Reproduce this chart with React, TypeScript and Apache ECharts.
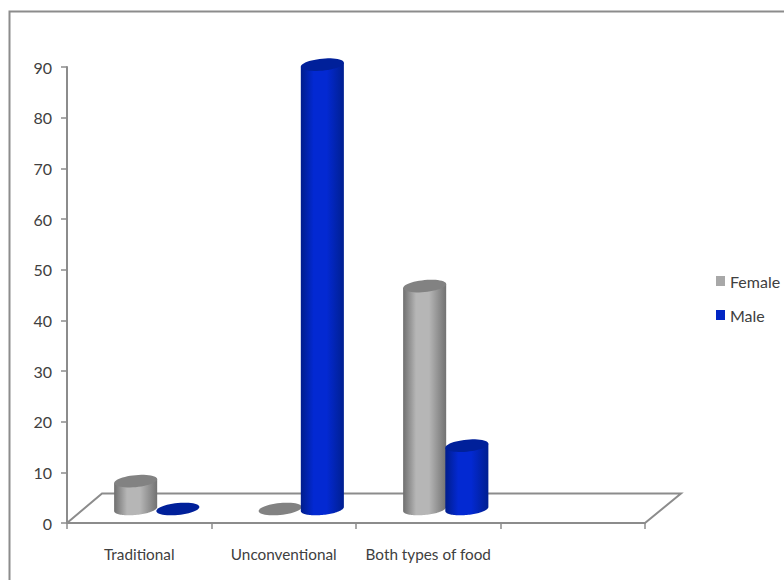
import React, { useEffect, useRef } from "react";
import * as echarts from "echarts";

const categories = ["Traditional", "Unconventional", "Both types of food", ""];
const femaleValues = [5.5, 0, 44, null];
const maleValues = [0, 87.7, 12.5, null];
const yTicks = { min: 0, max: 90, interval: 10 };

const FONT = 'Lato, "Noto Sans", sans-serif';
const TEXT = "#404040";
const LINE = "#8c8c8c";

type Tone = { side: [string, string, string]; cap: string };
const greyTone: Tone = { side: ["#6f6f6f", "#b6b6b6", "#727272"], cap: "#828282" };
const blueTone: Tone = { side: ["#001d8c", "#0329d2", "#001f90"], cap: "#00209a" };

// The cylinders stand halfway back on the floor, so their bases shift up and right.
const DEPTH_X = 17.5;
const DEPTH_Y = -14;
const CAP_RY = 6;
const CAP_TILT = 2;

function ellipsePoints(cx: number, cy: number, rx: number, from: number, to: number) {
  const pts: number[][] = [];
  const steps = 48;
  for (let i = 0; i <= steps; i++) {
    const t = from + ((to - from) * i) / steps;
    pts.push([cx + rx * Math.cos(t), cy + CAP_RY * Math.sin(t) - CAP_TILT * Math.cos(t)]);
  }
  return pts;
}

// Draws one cylinder; `side` is -1 for the left bar of a category and 1 for the right one.
function cylinder(side: number, tone: Tone) {
  return (_params: any, api: any) => {
    const value = api.value(1);
    const cat = api.value(0);
    if (value === null || Number.isNaN(value)) return null;
    const band = api.size([1, 0])[0];
    const rx = band * 0.149;
    const base = api.coord([cat, 0]);
    const top = api.coord([cat, value]);
    const cx = base[0] + DEPTH_X + side * rx * 0.98;
    const by = base[1] + DEPTH_Y;
    const ty = top[1] + DEPTH_Y;
    const cap = {
      type: "polygon",
      shape: { points: ellipsePoints(cx, ty, rx, 0, Math.PI * 2) },
      style: { fill: tone.cap },
    };
    if (value === 0) return { type: "group", children: [cap] };
    const outline = [
      [cx + rx, ty - CAP_TILT],
      ...ellipsePoints(cx, by, rx, 0, Math.PI),
      [cx - rx, ty + CAP_TILT],
    ];
    return {
      type: "group",
      children: [
        {
          type: "polygon",
          shape: { points: outline },
          style: {
            fill: new echarts.graphic.LinearGradient(0, 0, 1, 0, [
              { offset: 0, color: tone.side[0] },
              { offset: 0.3, color: tone.side[1] },
              { offset: 0.6, color: tone.side[1] },
              { offset: 1, color: tone.side[2] },
            ]),
          },
        },
        cap,
      ],
    };
  };
}

function toPoints(values: (number | null)[]) {
  return values.map((v, i) => [i, v]);
}

export default function App() {
  const ref = useRef<HTMLDivElement>(null);

  useEffect(() => {
    const chart = echarts.init(ref.current, undefined, { renderer: "svg" });
    chart.setOption({
      animation: false,
      backgroundColor: "#ffffff",
      grid: { left: 67, right: 139, top: 67, bottom: 57 },
      legend: {
        orient: "vertical",
        left: 711,
        top: 267,
        itemWidth: 9,
        itemHeight: 10,
        itemGap: 16,
        icon: "rect",
        textStyle: { fontFamily: FONT, fontSize: 16, lineHeight: 18, color: TEXT },
        data: ["Female", "Male"],
      },
      graphic: [
        {
          type: "polyline",
          silent: true,
          shape: { points: [[9.5, 580], [9.5, 11.5], [784, 11.5]] },
          style: { fill: "none", stroke: LINE, lineWidth: 2 },
        },
        {
          type: "polyline",
          silent: true,
          shape: { points: [[67, 523], [102, 493.5], [681, 493.5], [645, 523]] },
          style: { fill: "none", stroke: LINE, lineWidth: 2 },
        },
      ],
      xAxis: {
        type: "category",
        data: categories,
        axisLine: { lineStyle: { color: LINE, width: 2 } },
        axisTick: { show: true, length: 6, lineStyle: { color: LINE, width: 1.5 } },
        axisLabel: { fontFamily: FONT, fontSize: 15.3, color: TEXT, margin: 23, interval: 0 },
        splitLine: { show: false },
      },
      yAxis: {
        type: "value",
        min: yTicks.min,
        max: yTicks.max,
        interval: yTicks.interval,
        axisLine: { show: true, lineStyle: { color: LINE, width: 2 } },
        axisTick: { show: true, length: 6, lineStyle: { color: LINE, width: 1.5 } },
        axisLabel: { fontFamily: FONT, fontSize: 16, color: TEXT, margin: 15 },
        splitLine: { show: false },
      },
      series: [
        {
          type: "custom",
          name: "Female",
          renderItem: cylinder(-1, greyTone),
          encode: { x: 0, y: 1 },
          data: toPoints(femaleValues),
          itemStyle: { color: "#a8a8a8" },
          clip: false,
        },
        {
          type: "custom",
          name: "Male",
          renderItem: cylinder(1, blueTone),
          encode: { x: 0, y: 1 },
          data: toPoints(maleValues),
          itemStyle: { color: "#0226c4" },
          clip: false,
        },
      ],
    });
    return () => chart.dispose();
  }, []);

  return (
    <div
      ref={ref}
      style={{ position: "fixed", left: 0, top: 0, width: 784, height: 580 }}
    />
  );
}
